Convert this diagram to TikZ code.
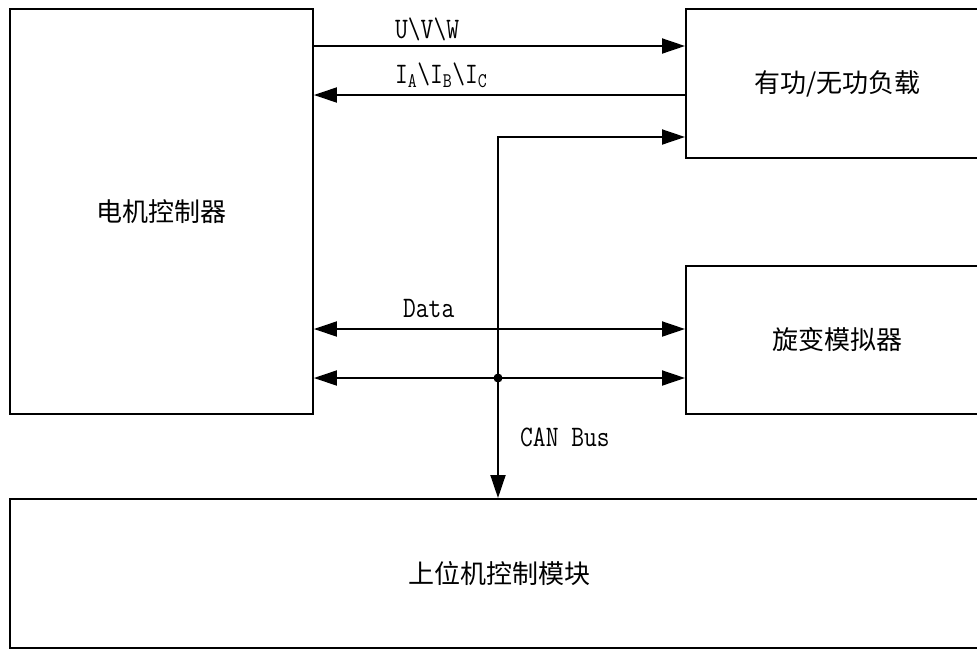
\documentclass[tikz,border=0pt]{standalone}
\usepackage{fontspec}
\newfontfamily\cjk{Noto Sans CJK SC}
\usetikzlibrary{arrows.meta}
\begin{document}
\begin{tikzpicture}[x=1pt,y=-1pt,
  blk/.style={draw,line width=1.9pt,rectangle,anchor=north west,inner sep=0pt,
    font=\cjk\fontsize{26}{30}\selectfont},
  arr/.style={line width=1.9pt,-{Triangle[length=23pt,width=15pt]}},
  darr/.style={line width=1.9pt,{Triangle[length=23pt,width=15pt]}-{Triangle[length=23pt,width=15pt]}},
  lbl/.style={anchor=base west,inner sep=0pt,yscale=1.2,transform shape,
    font=\ttfamily\fontsize{24.8}{28}\selectfont}]
\useasboundingbox (0,0) rectangle (977,649);
\node[blk,minimum width=303pt,minimum height=405pt] (ctrl) at (9,8) {电机控制器};
\node[blk,minimum width=303pt,minimum height=149pt] (load) at (685,8) {有功/无功负载};
\node[blk,minimum width=303pt,minimum height=148pt] (res) at (685,265) {旋变模拟器};
\node[blk,minimum width=979pt,minimum height=149pt] (host) at (9,498) {上位机控制模块};
% power lines
\draw[arr] (ctrl.east |- 0,46) -- (load.west |- 0,46);
\draw[arr] (load.west |- 0,95) -- (ctrl.east |- 0,95);
% data lines
\draw[darr] (ctrl.east |- 0,329) -- (res.west |- 0,329);
\draw[darr] (ctrl.east |- 0,378) -- (res.west |- 0,378);
% CAN bus
\coordinate (j) at (498,378);
\draw[arr] (j) |- (load.west |- 0,137);
\draw[arr] (j) -- (j |- host.north);
\fill (j) circle (4.5pt);
% labels
\node[lbl] (l1) at (395,38) {U\textbackslash V\textbackslash W};
\node[lbl] (l2) at (395,83) {I\textsubscript{A}\textbackslash I\textsubscript{B}\textbackslash I\textsubscript{C}};
\node[lbl] (l3) at (403,317) {Data};
\node[lbl] (l4) at (520,446) {CAN Bus};
\end{tikzpicture}
\end{document}
